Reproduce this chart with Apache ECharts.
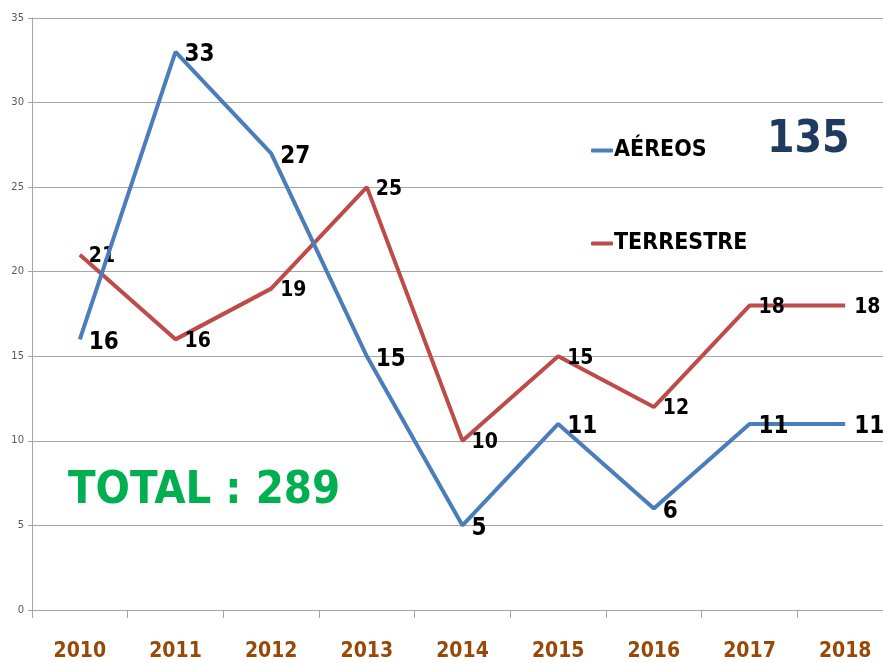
<!DOCTYPE html>
<html>
<head>
<meta charset="utf-8">
<script src="https://cdn.jsdelivr.net/npm/echarts@6/dist/echarts.min.js"></script>
<style>
  html, body { margin: 0; padding: 0; background: #fff; overflow: hidden; }
  #chart { width: 883px; height: 663px; }
</style>
</head>
<body>
<div id="chart"></div>
<script>
const years = ["2010", "2011", "2012", "2013", "2014", "2015", "2016", "2017", "2018"];
const aereos = [16, 33, 27, 15, 5, 11, 6, 11, 11];
const terrestre = [21, 16, 19, 25, 10, 15, 12, 18, 18];
const totalAereos = "135";
const totalText = "TOTAL : 289";

const font = "'DejaVu Sans Condensed', 'DejaVu Sans', sans-serif";

const chart = echarts.init(document.getElementById("chart"));

const options = {
  animation: false,
  backgroundColor: "#fff",
  title: [
    {
      text: totalAereos,
      left: 762,
      top: 114,
      textStyle: {
        fontFamily: font,
        fontSize: 44,
        fontWeight: "bold",
        color: "#1F3A5F",
        textBorderColor: "#fff",
        textBorderWidth: 2,
        textShadowColor: "#9fd3e8",
        textShadowOffsetX: 2,
        textShadowOffsetY: 3,
      },
    },
    {
      text: totalText,
      left: 63,
      top: 464,
      textStyle: {
        fontFamily: font,
        fontSize: 45,
        fontWeight: "bold",
        color: "#00B050",
        textBorderColor: "#fff",
        textBorderWidth: 2,
        textShadowColor: "#9fd3e8",
        textShadowOffsetX: 2,
        textShadowOffsetY: 3,
      },
    },
  ],
  legend: {
    orient: "vertical",
    left: 586,
    top: 134,
    itemGap: 70,
    itemWidth: 22,
    itemHeight: 4,
    icon: "roundRect",
    textStyle: {
      fontFamily: font,
      fontSize: 23,
      fontWeight: "bold",
      color: "#000",
      padding: [0, 0, 0, -4],
    },
    data: ["AÉREOS", "TERRESTRE"],
  },
  grid: {
    left: 32,
    top: 18,
    width: 861,
    height: 592,
    containLabel: false,
    outerBoundsMode: "none",
  },
  xAxis: {
    type: "category",
    data: years,
    boundaryGap: true,
    axisLine: { lineStyle: { color: "#A6A6A6", width: 1 } },
    axisTick: { show: true, length: 8, lineStyle: { color: "#A6A6A6" } },
    axisLabel: {
      margin: 31,
      fontFamily: font,
      fontSize: 21,
      fontWeight: "bold",
      color: "#984807",
    },
  },
  yAxis: {
    type: "value",
    min: 0,
    max: 35,
    interval: 5,
    axisLine: { show: true, lineStyle: { color: "#A6A6A6", width: 1 } },
    axisTick: { show: true, length: 4, lineStyle: { color: "#A6A6A6" } },
    splitLine: { lineStyle: { color: "#A6A6A6", width: 1 } },
    axisLabel: {
      margin: 8,
      fontFamily: "'DejaVu Sans', sans-serif",
      fontSize: 10,
      color: "#595959",
    },
  },
  series: [
    {
      name: "AÉREOS",
      type: "line",
      data: aereos,
      symbol: "circle",
      symbolSize: 0,
      showSymbol: true,
      color: "#4A7EBB",
      lineStyle: { width: 4, color: "#4A7EBB" },
      label: {
        show: true,
        position: "right",
        distance: 9,
        offset: [0, 3],
        fontFamily: font,
        fontSize: 24,
        fontWeight: "bold",
        color: "#000",
      },
      z: 3,
    },
    {
      name: "TERRESTRE",
      type: "line",
      data: terrestre,
      symbol: "circle",
      symbolSize: 0,
      showSymbol: true,
      color: "#BE4B48",
      lineStyle: { width: 4, color: "#BE4B48" },
      label: {
        show: true,
        position: "right",
        distance: 9,
        offset: [0, 2],
        fontFamily: font,
        fontSize: 21,
        fontWeight: "bold",
        color: "#000",
      },
      z: 2,
    },
  ],
};

chart.setOption(options);
</script>
</body>
</html>
